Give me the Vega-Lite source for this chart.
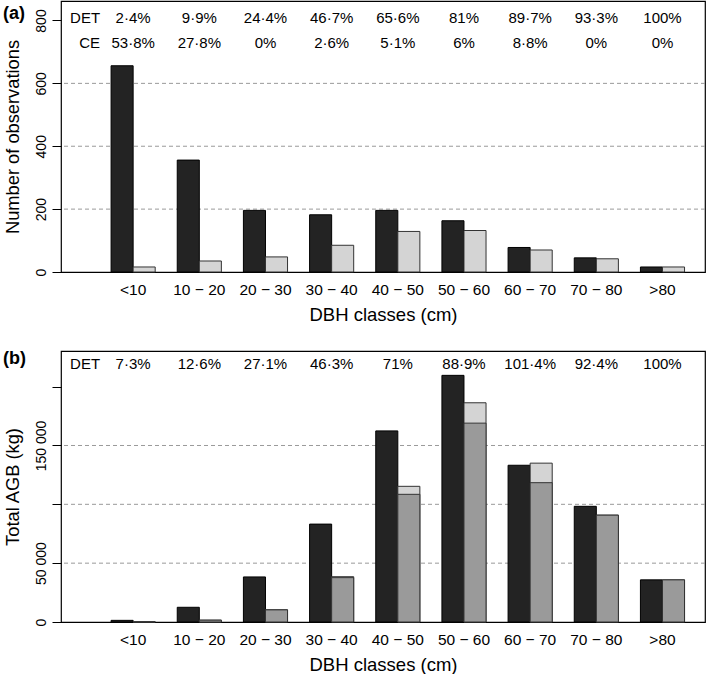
{
  "$schema": "https://vega.github.io/schema/vega-lite/v6.json",
  "padding": {"left": 2, "top": 0, "right": 0, "bottom": 0},
  "background": "white",
  "spacing": 24,
  "config": {
    "font": "Liberation Sans",
    "view": {"stroke": "#000", "strokeWidth": 1.2},
    "axisY": {"domain": false, "grid": false, "tickColor": "#000", "tickSize": 9, "tickWidth": 1, "labelAngle": -90, "labelAlign": "center", "labelBaseline": "bottom", "labelPadding": 4, "labelFontSize": 14, "labelColor": "#000", "labelOverlap": false, "labelFlush": false, "titleFontSize": 18.3, "titleFontWeight": "normal", "titleColor": "#000", "titlePadding": 12},
    "axisX": {"domain": false, "ticks": false, "grid": false, "labelAngle": 0, "labelFontSize": 15.5, "labelPadding": 10, "labelColor": "#000", "labelOverlap": false, "titleFontSize": 18.5, "titleFontWeight": "normal", "titleColor": "#000", "titlePadding": 8},
    "text": {"fontSize": 15, "color": "#000"}
  },
  "datasets": {
    "a_bars": [
      {"class": "<10", "series": "Total", "n": 656}, {"class": "<10", "series": "Detected", "n": 16},
      {"class": "10 − 20", "series": "Total", "n": 356}, {"class": "10 − 20", "series": "Detected", "n": 35},
      {"class": "20 − 30", "series": "Total", "n": 196}, {"class": "20 − 30", "series": "Detected", "n": 48},
      {"class": "30 − 40", "series": "Total", "n": 182}, {"class": "30 − 40", "series": "Detected", "n": 85},
      {"class": "40 − 50", "series": "Total", "n": 196}, {"class": "40 − 50", "series": "Detected", "n": 129},
      {"class": "50 − 60", "series": "Total", "n": 163}, {"class": "50 − 60", "series": "Detected", "n": 132},
      {"class": "60 − 70", "series": "Total", "n": 78}, {"class": "60 − 70", "series": "Detected", "n": 70},
      {"class": "70 − 80", "series": "Total", "n": 45}, {"class": "70 − 80", "series": "Detected", "n": 42},
      {"class": ">80", "series": "Total", "n": 16}, {"class": ">80", "series": "Detected", "n": 16}
    ],
    "a_text": [
      {"class": "<10", "row": "DET", "label": "2·4%"}, {"class": "<10", "row": "CE", "label": "53·8%"},
      {"class": "10 − 20", "row": "DET", "label": "9·9%"}, {"class": "10 − 20", "row": "CE", "label": "27·8%"},
      {"class": "20 − 30", "row": "DET", "label": "24·4%"}, {"class": "20 − 30", "row": "CE", "label": "0%"},
      {"class": "30 − 40", "row": "DET", "label": "46·7%"}, {"class": "30 − 40", "row": "CE", "label": "2·6%"},
      {"class": "40 − 50", "row": "DET", "label": "65·6%"}, {"class": "40 − 50", "row": "CE", "label": "5·1%"},
      {"class": "50 − 60", "row": "DET", "label": "81%"}, {"class": "50 − 60", "row": "CE", "label": "6%"},
      {"class": "60 − 70", "row": "DET", "label": "89·7%"}, {"class": "60 − 70", "row": "CE", "label": "8·8%"},
      {"class": "70 − 80", "row": "DET", "label": "93·3%"}, {"class": "70 − 80", "row": "CE", "label": "0%"},
      {"class": ">80", "row": "DET", "label": "100%"}, {"class": ">80", "row": "CE", "label": "0%"}
    ],
    "rowlab": [
      {"class": "<10", "row": "DET"}, {"class": "<10", "row": "CE"}
    ],
    "a_grid": [{"g": 200}, {"g": 400}, {"g": 600}],
    "b_bars": [
      {"class": "<10", "series": "Total", "agb": 1400}, {"class": "<10", "series": "Estimated", "agb": 102}, {"class": "<10", "series": "Detected", "agb": 100},
      {"class": "10 − 20", "series": "Total", "agb": 12500}, {"class": "10 − 20", "series": "Estimated", "agb": 1580}, {"class": "10 − 20", "series": "Detected", "agb": 1550},
      {"class": "20 − 30", "series": "Total", "agb": 38300}, {"class": "20 − 30", "series": "Estimated", "agb": 10400}, {"class": "20 − 30", "series": "Detected", "agb": 10300},
      {"class": "30 − 40", "series": "Total", "agb": 83200}, {"class": "30 − 40", "series": "Estimated", "agb": 38500}, {"class": "30 − 40", "series": "Detected", "agb": 37700},
      {"class": "40 − 50", "series": "Total", "agb": 162400}, {"class": "40 − 50", "series": "Estimated", "agb": 115300}, {"class": "40 − 50", "series": "Detected", "agb": 108500},
      {"class": "50 − 60", "series": "Total", "agb": 209600}, {"class": "50 − 60", "series": "Estimated", "agb": 186300}, {"class": "50 − 60", "series": "Detected", "agb": 169000},
      {"class": "60 − 70", "series": "Total", "agb": 133200}, {"class": "60 − 70", "series": "Estimated", "agb": 135000}, {"class": "60 − 70", "series": "Detected", "agb": 118400},
      {"class": "70 − 80", "series": "Total", "agb": 98300}, {"class": "70 − 80", "series": "Estimated", "agb": 90800}, {"class": "70 − 80", "series": "Detected", "agb": 90800},
      {"class": ">80", "series": "Total", "agb": 35800}, {"class": ">80", "series": "Estimated", "agb": 35800}, {"class": ">80", "series": "Detected", "agb": 35800}
    ],
    "b_text": [
      {"class": "<10", "row": "DET", "label": "7·3%"},
      {"class": "10 − 20", "row": "DET", "label": "12·6%"},
      {"class": "20 − 30", "row": "DET", "label": "27·1%"},
      {"class": "30 − 40", "row": "DET", "label": "46·3%"},
      {"class": "40 − 50", "row": "DET", "label": "71%"},
      {"class": "50 − 60", "row": "DET", "label": "88·9%"},
      {"class": "60 − 70", "row": "DET", "label": "101·4%"},
      {"class": "70 − 80", "row": "DET", "label": "92·4%"},
      {"class": ">80", "row": "DET", "label": "100%"}
    ],
    "b_grid": [{"g": 50000}, {"g": 100000}, {"g": 150000}]
  },
  "vconcat": [
    {
      "width": 644,
      "height": 271,
      "title": {"text": "(a)", "anchor": "start", "frame": "bounds", "orient": "top", "baseline": "top", "offset": 0, "dy": 22, "fontSize": 18, "fontWeight": "bold", "color": "#000"},
      "layer": [
        {
          "data": {"name": "a_grid"},
          "mark": {"type": "rule", "strokeDash": [4, 3], "color": "#9a9a9a", "strokeWidth": 1},
          "encoding": {
            "y": {"field": "g", "type": "quantitative", "scale": {"domain": [0, 862], "nice": false, "zero": true}, "axis": {"title": "Number of observations", "values": [0, 200, 400, 600, 800]}}
          }
        },
        {
          "data": {"name": "a_bars"},
          "transform": [{"filter": "datum.series === 'Total'"}],
          "mark": {"type": "bar", "fill": "#232323", "stroke": "#000", "strokeWidth": 1},
          "encoding": {
            "x": {"field": "class", "type": "nominal", "scale": {"domain": ["<10", "10 − 20", "20 − 30", "30 − 40", "40 − 50", "50 − 60", "60 − 70", "70 − 80", ">80"], "paddingInner": 0.3333, "paddingOuter": 0.533, "align": 0.71}, "axis": {"title": "DBH classes (cm)"}},
            "xOffset": {"datum": "A", "scale": {"domain": ["A", "B"], "paddingInner": 0, "paddingOuter": 0}},
            "y": {"field": "n", "type": "quantitative", "scale": {"domain": [0, 862], "nice": false, "zero": true}, "axis": {"title": "Number of observations", "values": [0, 200, 400, 600, 800]}}
          }
        },
        {
          "data": {"name": "a_bars"},
          "transform": [{"filter": "datum.series === 'Detected'"}],
          "mark": {"type": "bar", "fill": "#d4d4d4", "stroke": "#333", "strokeWidth": 1},
          "encoding": {
            "x": {"field": "class", "type": "nominal", "scale": {"domain": ["<10", "10 − 20", "20 − 30", "30 − 40", "40 − 50", "50 − 60", "60 − 70", "70 − 80", ">80"], "paddingInner": 0.3333, "paddingOuter": 0.533, "align": 0.71}, "axis": {"title": "DBH classes (cm)"}},
            "xOffset": {"datum": "B", "scale": {"domain": ["A", "B"], "paddingInner": 0, "paddingOuter": 0}},
            "y": {"field": "n", "type": "quantitative", "scale": {"domain": [0, 862], "nice": false, "zero": true}, "axis": {"title": "Number of observations", "values": [0, 200, 400, 600, 800]}}
          }
        },
        {
          "data": {"name": "rowlab"},
          "transform": [{"filter": "datum.row === 'DET'"}],
          "mark": {"type": "text", "align": "right", "baseline": "middle", "dx": -11},
          "encoding": {
            "x": {"field": "class", "type": "nominal", "bandPosition": 0, "scale": {"domain": ["<10", "10 − 20", "20 − 30", "30 − 40", "40 − 50", "50 − 60", "60 − 70", "70 − 80", ">80"], "paddingInner": 0.3333, "paddingOuter": 0.533, "align": 0.71}, "axis": {"title": "DBH classes (cm)"}},
            "y": {"datum": 809, "type": "quantitative"},
            "text": {"field": "row"}
          }
        },
        {
          "data": {"name": "rowlab"},
          "transform": [{"filter": "datum.row === 'CE'"}],
          "mark": {"type": "text", "align": "right", "baseline": "middle", "dx": -11},
          "encoding": {
            "x": {"field": "class", "type": "nominal", "bandPosition": 0, "scale": {"domain": ["<10", "10 − 20", "20 − 30", "30 − 40", "40 − 50", "50 − 60", "60 − 70", "70 − 80", ">80"], "paddingInner": 0.3333, "paddingOuter": 0.533, "align": 0.71}, "axis": {"title": "DBH classes (cm)"}},
            "y": {"datum": 729, "type": "quantitative"},
            "text": {"field": "row"}
          }
        },
        {
          "data": {"name": "a_text"},
          "transform": [{"filter": "datum.row === 'DET'"}],
          "mark": {"type": "text", "align": "center", "baseline": "middle"},
          "encoding": {
            "x": {"field": "class", "type": "nominal", "scale": {"domain": ["<10", "10 − 20", "20 − 30", "30 − 40", "40 − 50", "50 − 60", "60 − 70", "70 − 80", ">80"], "paddingInner": 0.3333, "paddingOuter": 0.533, "align": 0.71}, "axis": {"title": "DBH classes (cm)"}},
            "y": {"datum": 809, "type": "quantitative"},
            "text": {"field": "label"}
          }
        },
        {
          "data": {"name": "a_text"},
          "transform": [{"filter": "datum.row === 'CE'"}],
          "mark": {"type": "text", "align": "center", "baseline": "middle"},
          "encoding": {
            "x": {"field": "class", "type": "nominal", "scale": {"domain": ["<10", "10 − 20", "20 − 30", "30 − 40", "40 − 50", "50 − 60", "60 − 70", "70 − 80", ">80"], "paddingInner": 0.3333, "paddingOuter": 0.533, "align": 0.71}, "axis": {"title": "DBH classes (cm)"}},
            "y": {"datum": 729, "type": "quantitative"},
            "text": {"field": "label"}
          }
        }
      ]
    },
    {
      "width": 644,
      "height": 271,
      "title": {"text": "(b)", "anchor": "start", "frame": "bounds", "orient": "top", "baseline": "top", "offset": 0, "dy": 17, "fontSize": 18, "fontWeight": "bold", "color": "#000"},
      "layer": [
        {
          "data": {"name": "b_grid"},
          "mark": {"type": "rule", "strokeDash": [4, 3], "color": "#9a9a9a", "strokeWidth": 1},
          "encoding": {
            "y": {"field": "g", "type": "quantitative", "scale": {"domain": [0, 230300], "nice": false, "zero": true}, "axis": {"title": "Total AGB (kg)", "values": [0, 50000, 100000, 150000, 200000], "labelExpr": "datum.value == 0 ? '0' : datum.value == 50000 ? '50 000' : datum.value == 150000 ? '150 000' : ''"}}
          }
        },
        {
          "data": {"name": "b_bars"},
          "transform": [{"filter": "datum.series === 'Total'"}],
          "mark": {"type": "bar", "fill": "#232323", "stroke": "#000", "strokeWidth": 1},
          "encoding": {
            "x": {"field": "class", "type": "nominal", "scale": {"domain": ["<10", "10 − 20", "20 − 30", "30 − 40", "40 − 50", "50 − 60", "60 − 70", "70 − 80", ">80"], "paddingInner": 0.3333, "paddingOuter": 0.533, "align": 0.71}, "axis": {"title": "DBH classes (cm)"}},
            "xOffset": {"datum": "A", "scale": {"domain": ["A", "B"], "paddingInner": 0, "paddingOuter": 0}},
            "y": {"field": "agb", "type": "quantitative", "scale": {"domain": [0, 230300], "nice": false, "zero": true}, "axis": {"title": "Total AGB (kg)", "values": [0, 50000, 100000, 150000, 200000], "labelExpr": "datum.value == 0 ? '0' : datum.value == 50000 ? '50 000' : datum.value == 150000 ? '150 000' : ''"}}
          }
        },
        {
          "data": {"name": "b_bars"},
          "transform": [{"filter": "datum.series === 'Estimated'"}],
          "mark": {"type": "bar", "fill": "#d4d4d4", "stroke": "#333", "strokeWidth": 1},
          "encoding": {
            "x": {"field": "class", "type": "nominal", "scale": {"domain": ["<10", "10 − 20", "20 − 30", "30 − 40", "40 − 50", "50 − 60", "60 − 70", "70 − 80", ">80"], "paddingInner": 0.3333, "paddingOuter": 0.533, "align": 0.71}, "axis": {"title": "DBH classes (cm)"}},
            "xOffset": {"datum": "B", "scale": {"domain": ["A", "B"], "paddingInner": 0, "paddingOuter": 0}},
            "y": {"field": "agb", "type": "quantitative", "scale": {"domain": [0, 230300], "nice": false, "zero": true}, "axis": {"title": "Total AGB (kg)", "values": [0, 50000, 100000, 150000, 200000], "labelExpr": "datum.value == 0 ? '0' : datum.value == 50000 ? '50 000' : datum.value == 150000 ? '150 000' : ''"}}
          }
        },
        {
          "data": {"name": "b_bars"},
          "transform": [{"filter": "datum.series === 'Detected'"}],
          "mark": {"type": "bar", "fill": "#9a9a9a", "stroke": "#333", "strokeWidth": 1},
          "encoding": {
            "x": {"field": "class", "type": "nominal", "scale": {"domain": ["<10", "10 − 20", "20 − 30", "30 − 40", "40 − 50", "50 − 60", "60 − 70", "70 − 80", ">80"], "paddingInner": 0.3333, "paddingOuter": 0.533, "align": 0.71}, "axis": {"title": "DBH classes (cm)"}},
            "xOffset": {"datum": "B", "scale": {"domain": ["A", "B"], "paddingInner": 0, "paddingOuter": 0}},
            "y": {"field": "agb", "type": "quantitative", "scale": {"domain": [0, 230300], "nice": false, "zero": true}, "axis": {"title": "Total AGB (kg)", "values": [0, 50000, 100000, 150000, 200000], "labelExpr": "datum.value == 0 ? '0' : datum.value == 50000 ? '50 000' : datum.value == 150000 ? '150 000' : ''"}}
          }
        },
        {
          "data": {"name": "rowlab"},
          "transform": [{"filter": "datum.row === 'DET'"}],
          "mark": {"type": "text", "align": "right", "baseline": "middle", "dx": -11},
          "encoding": {
            "x": {"field": "class", "type": "nominal", "bandPosition": 0, "scale": {"domain": ["<10", "10 − 20", "20 − 30", "30 − 40", "40 − 50", "50 − 60", "60 − 70", "70 − 80", ">80"], "paddingInner": 0.3333, "paddingOuter": 0.533, "align": 0.71}, "axis": {"title": "DBH classes (cm)"}},
            "y": {"datum": 219250, "type": "quantitative"},
            "text": {"field": "row"}
          }
        },
        {
          "data": {"name": "b_text"},
          "mark": {"type": "text", "align": "center", "baseline": "middle"},
          "encoding": {
            "x": {"field": "class", "type": "nominal", "scale": {"domain": ["<10", "10 − 20", "20 − 30", "30 − 40", "40 − 50", "50 − 60", "60 − 70", "70 − 80", ">80"], "paddingInner": 0.3333, "paddingOuter": 0.533, "align": 0.71}, "axis": {"title": "DBH classes (cm)"}},
            "y": {"datum": 219250, "type": "quantitative"},
            "text": {"field": "label"}
          }
        }
      ]
    }
  ]
}
